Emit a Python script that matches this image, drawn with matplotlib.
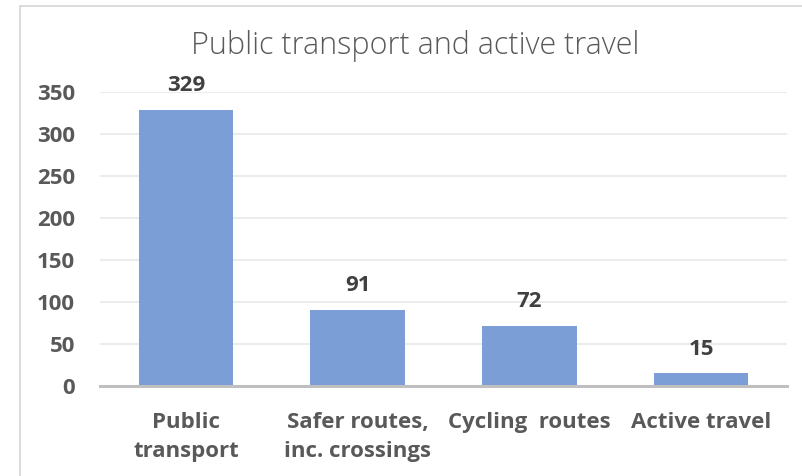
import matplotlib
matplotlib.use("Agg")
import matplotlib.pyplot as plt
from matplotlib.patches import Rectangle

categories = ["Public\ntransport", "Safer routes,\ninc. crossings", "Cycling  routes", "Active travel"]
values = [329, 91, 72, 15]
yticks = [0, 50, 100, 150, 200, 250, 300, 350]
title = "Public transport and active travel"

W, H = 803, 476
fig = plt.figure(figsize=(W / 100, H / 100), dpi=100)
fig.patch.set_facecolor("white")

# outer chart border
fig.add_artist(Rectangle((20 / W, -0.1), 1.2, 1 - 6 / H + 0.1, transform=fig.transFigure,
                         fill=False, edgecolor="#d9d9d9", linewidth=1.3))

left, right = 100 / W, 787 / W
bottom, top = 1 - 386 / H, 1 - 92 / H
ax = fig.add_axes([left, bottom, right - left, top - bottom])

x = list(range(len(values)))
ax.bar(x, values, width=0.55, color="#7b9ed6", zorder=3)
ax.set_xlim(-0.5, len(values) - 0.5)
ax.set_ylim(0, 350)
ax.set_yticks(yticks)
ax.yaxis.grid(True, color="#ececec", linewidth=1.5, zorder=0)
ax.set_axisbelow(True)
for s in ["top", "right", "left"]:
    ax.spines[s].set_visible(False)
ax.spines["bottom"].set_color("#bfbfbf")
ax.spines["bottom"].set_linewidth(2.2)
ax.spines["bottom"].set_zorder(4)
ax.tick_params(axis="both", length=0, colors="#595959")
ax.tick_params(axis="y", pad=18)
ax.tick_params(axis="x", pad=19)
ax.set_yticklabels([str(v) for v in yticks], fontsize=16, fontweight="bold", family="Open Sans")
ax.set_xticks(x)
ax.set_xticklabels(categories, fontsize=16, fontweight="bold", family="Open Sans",
                   linespacing=1.45)

for xi, v in zip(x, values):
    ax.annotate(str(v), (xi, v), xytext=(0, 10), textcoords="offset points",
                ha="center", va="bottom", fontsize=16, fontweight="bold",
                color="#404040", family="Open Sans")

fig.text(415 / W, 1 - 54 / H, title, ha="center", va="baseline", fontsize=22,
         color="#595959", family="Open Sans", fontweight="light")

fig.savefig("out.png", dpi=100, facecolor="white")
